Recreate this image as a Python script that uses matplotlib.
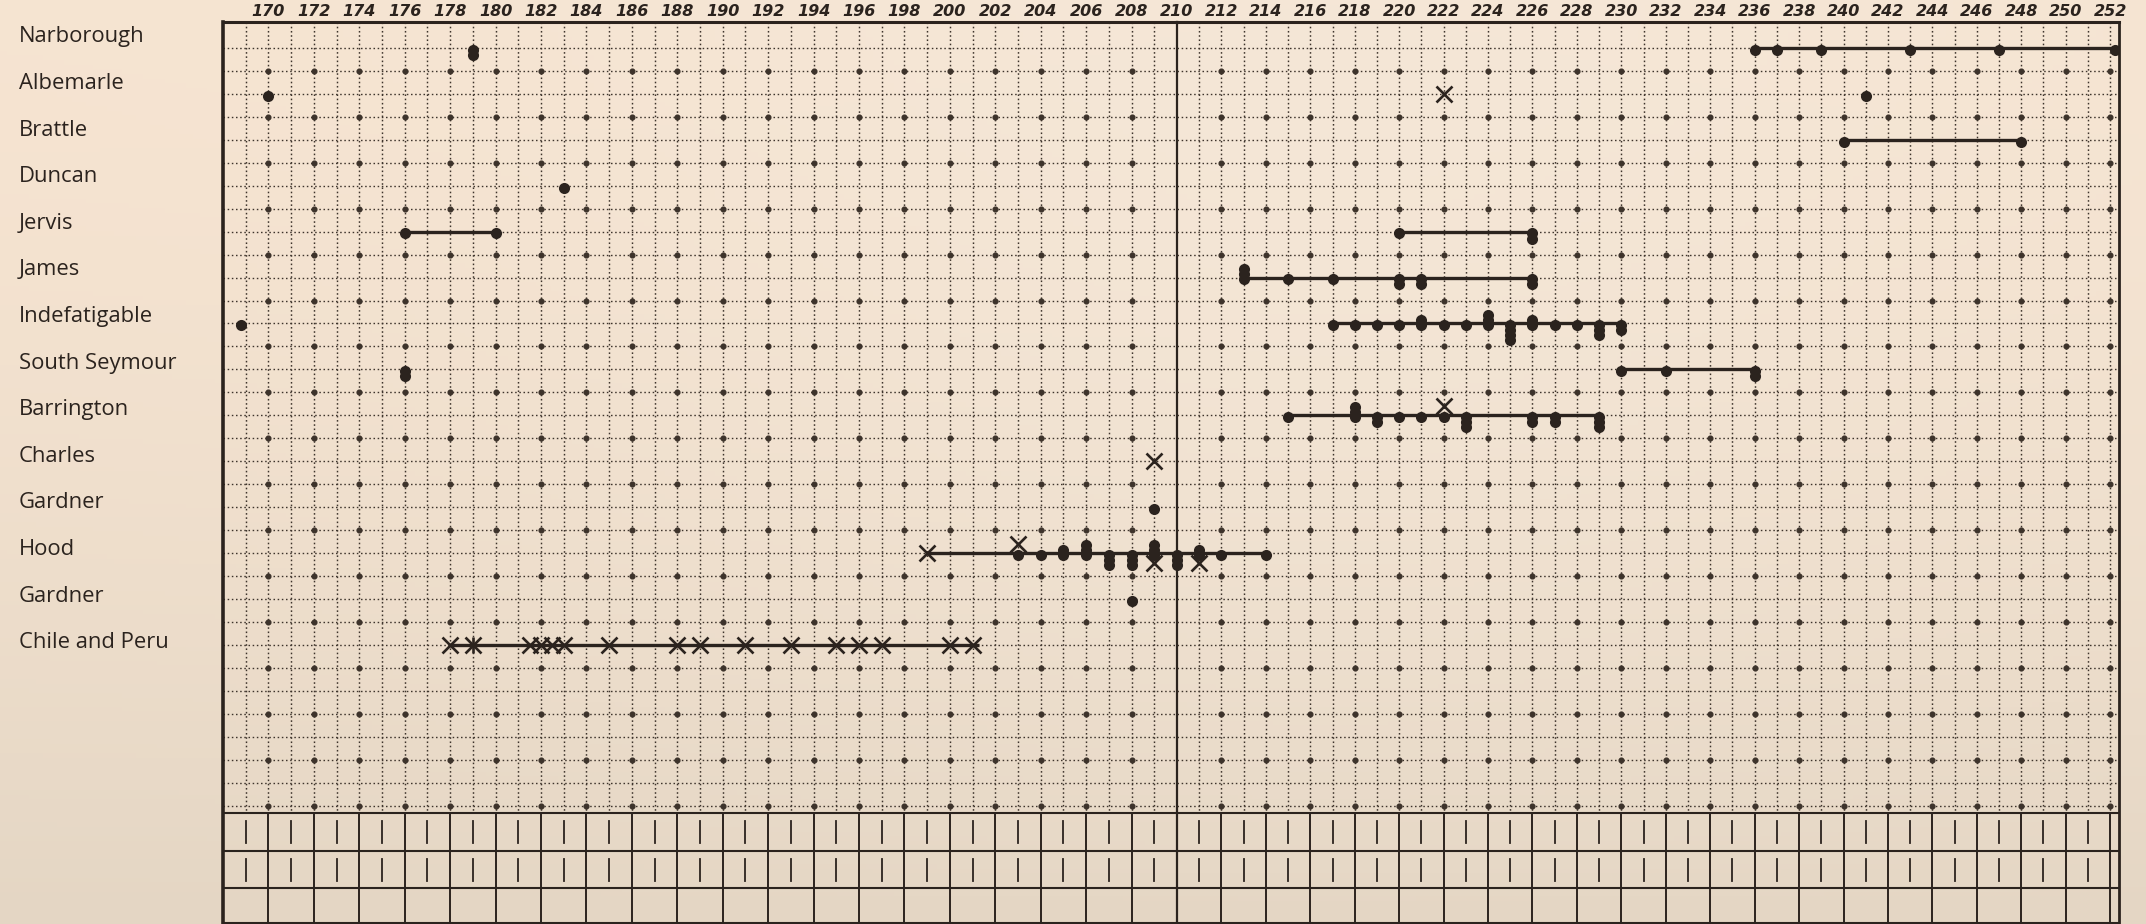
import matplotlib
matplotlib.use("Agg")
import matplotlib.pyplot as plt
import matplotlib.transforms as mtransforms
from collections import Counter
import numpy as np

# ---------------- data ----------------
islands = ["Narborough", "Albemarle", "Brattle", "Duncan", "Jervis", "James",
           "Indefatigable", "South Seymour", "Barrington", "Charles", "Gardner",
           "Hood", "Gardner", "Chile and Peru"]

ticks_left = list(range(170, 211, 2))
ticks_right = list(range(212, 253, 2))

# horizontal ranges (lines), dots (with number of stacked specimens; negative = stacked upward),
# crosses for each row
narborough_lines = [(236, 252.2)]
narborough_dots = [179, 236, 237, 239, 243, 247, 252.2]
narborough_stack = [2, 1, 1, 1, 1, 1, 1]
narborough_x = []

albemarle_lines = []
albemarle_dots = [170, 241]
albemarle_stack = [1, 1]
albemarle_x = [222]

brattle_lines = [(240, 248)]
brattle_dots = [240, 248]
brattle_stack = [1, 1]
brattle_x = []

duncan_lines = []
duncan_dots = [183]
duncan_stack = [-1]
duncan_x = []

jervis_lines = [(176, 180), (220, 226)]
jervis_dots = [176, 180, 220, 226]
jervis_stack = [1, 1, 1, 2]
jervis_x = []

james_lines = [(213, 226)]
james_dots = [213, 215, 217, 220, 221, 226]
james_stack = [-3, 1, 1, 2, 2, 2]
james_x = []

indefatigable_lines = [(217, 230)]
indefatigable_dots = [168.8, 217, 218, 219, 220, 221, 222, 223, 224, 225, 226, 227, 228, 229, 230]
indefatigable_stack = [-1, 1, 1, 1, 1, -2, 1, 1, -3, 4, -2, 1, 1, 3, 2]
indefatigable_x = []

south_seymour_lines = [(230, 236)]
south_seymour_dots = [176, 230, 232, 236]
south_seymour_stack = [2, 1, 1, 2]
south_seymour_x = []

barrington_lines = [(215, 229)]
barrington_dots = [215, 218, 219, 220, 221, 222, 223, 226, 227, 229]
barrington_stack = [1, -3, 2, 1, 1, 1, 3, 2, 2, 3]
barrington_x = [222]

charles_lines = []
charles_dots = []
charles_stack = []
charles_x = [209]

gardner_lines = []
gardner_dots = [209]
gardner_stack = [1]
gardner_x = []

hood_lines = [(199, 214)]
hood_dots = [203, 204, 205, 206, 207, 208, 209, 210, 211, 212, 214]
hood_stack = [1, 1, -2, -3, 3, 3, -3, 3, -2, 1, 1]
hood_x = [199, 203, 209, 211]

gardner2_lines = []
gardner2_dots = [208]
gardner2_stack = [1]
gardner2_x = []

chile_lines = [(178, 201.3)]
chile_dots = []
chile_stack = []
chile_x = [178, 179, 179, 181.5, 182, 182.5, 183, 185, 188, 189, 191, 193, 195, 196, 197, 200, 201]

rows = [
    (narborough_lines, narborough_dots, narborough_stack, narborough_x),
    (albemarle_lines, albemarle_dots, albemarle_stack, albemarle_x),
    (brattle_lines, brattle_dots, brattle_stack, brattle_x),
    (duncan_lines, duncan_dots, duncan_stack, duncan_x),
    (jervis_lines, jervis_dots, jervis_stack, jervis_x),
    (james_lines, james_dots, james_stack, james_x),
    (indefatigable_lines, indefatigable_dots, indefatigable_stack, indefatigable_x),
    (south_seymour_lines, south_seymour_dots, south_seymour_stack, south_seymour_x),
    (barrington_lines, barrington_dots, barrington_stack, barrington_x),
    (charles_lines, charles_dots, charles_stack, charles_x),
    (gardner_lines, gardner_dots, gardner_stack, gardner_x),
    (hood_lines, hood_dots, hood_stack, hood_x),
    (gardner2_lines, gardner2_dots, gardner2_stack, gardner2_x),
    (chile_lines, chile_dots, chile_stack, chile_x),
]

# ---------------- style ----------------
INK = "#2b231e"
GRID = "#3d332b"
PAPER = "#F2E4D3"
W, H = 2146, 924
Y_TOP, Y_BOT = -0.566, 19.08
GRID_BOTTOM = 16.67
TABLE_LINES = [16.67, 17.5, 18.3, 19.05]
STEP = 0.11

fig = plt.figure(figsize=(W / 100, H / 100), dpi=100)
fig.patch.set_facecolor(PAPER)

# paper tone background
bg = fig.add_axes([0, 0, 1, 1], zorder=-10)
gy = np.linspace(0, 1, 200)[:, None]
gx = np.linspace(0, 1, 300)[None, :]
top_col = np.array([246, 228, 209]) / 255
bot_col = np.array([228, 214, 196]) / 255
mid_col = np.array([244, 234, 221]) / 255
t = gy ** 1.6
img = (1 - t)[..., None] * top_col + t[..., None] * bot_col
lighten = np.exp(-((gx - 0.62) / 0.35) ** 2)[..., None] * (1 - t[..., None]) * 0.5
img = img * (1 - lighten) + mid_col * lighten
bg.imshow(img, aspect="auto", extent=[0, 1, 0, 1])
bg.set_axis_off()

x_left0 = 223 / W
x_fold = 1177 / W
x_right1 = 2119 / W
top_frac = 1 - 22 / H
axL = fig.add_axes([x_left0, 0, x_fold - x_left0, top_frac])
axR = fig.add_axes([x_fold, 0, x_right1 - x_fold, top_frac])
pages = [(axL, 168.0, 210.0, ticks_left), (axR, 210.0, 252.4, ticks_right)]

for ax, xmin, xmax, ticks in pages:
    ax.set_xlim(xmin, xmax)
    ax.set_ylim(Y_BOT, Y_TOP)
    ax.set_axis_off()
    ax.patch.set_alpha(0)

    # dotted grid
    for xv in range(int(np.ceil(xmin)), int(np.floor(xmax)) + 1):
        if xv in (168, 210):
            continue
        ax.plot([xv, xv], [Y_TOP, GRID_BOTTOM], color=GRID, lw=1.05,
                ls=(0, (1.1, 1.8)), zorder=1)
    for yv in np.arange(0, 16.51, 0.5):
        ax.plot([xmin, xmax], [yv, yv], color=GRID, lw=1.0,
                ls=(0, (1.1, 1.9)), zorder=1)
    evens = [v for v in range(170, 253, 2) if xmin < v < xmax]
    for yv in np.arange(0.5, 16.51, 1.0):
        ax.plot(evens, [yv] * len(evens), "o", ms=3.4, color=GRID, zorder=2)

    # solid frame lines
    ax.plot([xmin, xmax], [Y_TOP, Y_TOP], color=INK, lw=2.2, zorder=3, clip_on=False)
    for yv in TABLE_LINES:
        ax.plot([xmin, xmax], [yv, yv], color=INK, lw=1.5, zorder=3)
    for v in evens:
        ax.plot([v, v], [GRID_BOTTOM, TABLE_LINES[-1]], color=INK, lw=1.4, zorder=3)
    odds = [v for v in range(169, 253, 2) if xmin < v < xmax]
    for r0, r1 in zip(TABLE_LINES[:2], TABLE_LINES[1:3]):
        c = (r0 + r1) / 2
        for v in odds:
            ax.plot([v, v], [c - 0.24, c + 0.24], color=INK, lw=1.3, zorder=3)

    # top labels
    for v in ticks:
        ax.text(v, Y_TOP - 0.07, str(v), ha="center", va="bottom", fontsize=11.5,
                style="italic", fontweight="bold", color=INK, clip_on=False)

# borders
axL.plot([168.0, 168.0], [Y_TOP, Y_BOT], color=INK, lw=2.6, zorder=6, clip_on=False)
axL.plot([210, 210], [Y_TOP, TABLE_LINES[-1]], color=INK, lw=1.6, zorder=6, clip_on=False)
axR.plot([252.4, 252.4], [Y_TOP, TABLE_LINES[-1]], color=INK, lw=2.0, zorder=6, clip_on=False)

# ---------------- data ----------------
for r, (lines, dots, stack, crosses) in enumerate(rows):
    for ax, xmin, xmax, _ in pages:
        for a, b in lines:
            ax.plot([a, b], [r, r], color=INK, lw=2.4, solid_capstyle="butt", zorder=4)
        for x, n in zip(dots, stack):
            k = abs(n)
            sgn = 1 if n > 0 else -1
            ys = [r + 0.04 + sgn * STEP * i for i in range(k)]
            ax.plot([x] * k, ys, "o", ms=8, color=INK, mec="none", zorder=5)
        counts = Counter(crosses)
        for x, c in counts.items():
            off = 0.0
            if x in dots:
                n = stack[dots.index(x)]
                off = 0.22 if n < 0 else -0.2
            ax.plot([x], [r + off], marker="x", ms=11, mew=1.9, color=INK, zorder=6)
            if c > 1:
                ax.plot([x], [r + off], marker="|", ms=11, mew=1.9, color=INK, zorder=6)
                ax.plot([x], [r + off], marker="_", ms=8, mew=1.9, color=INK, zorder=6)

# row labels
trans = mtransforms.blended_transform_factory(fig.transFigure, axL.transData)
for r, name in enumerate(islands):
    axL.text(19 / W, r - 0.24 + 0.015 * r, name, transform=trans, ha="left", va="center",
             fontsize=15.8, family=["Open Sans", "DejaVu Sans"], color=INK, clip_on=False)

fig.savefig("out.png", dpi=100, facecolor=fig.get_facecolor())
